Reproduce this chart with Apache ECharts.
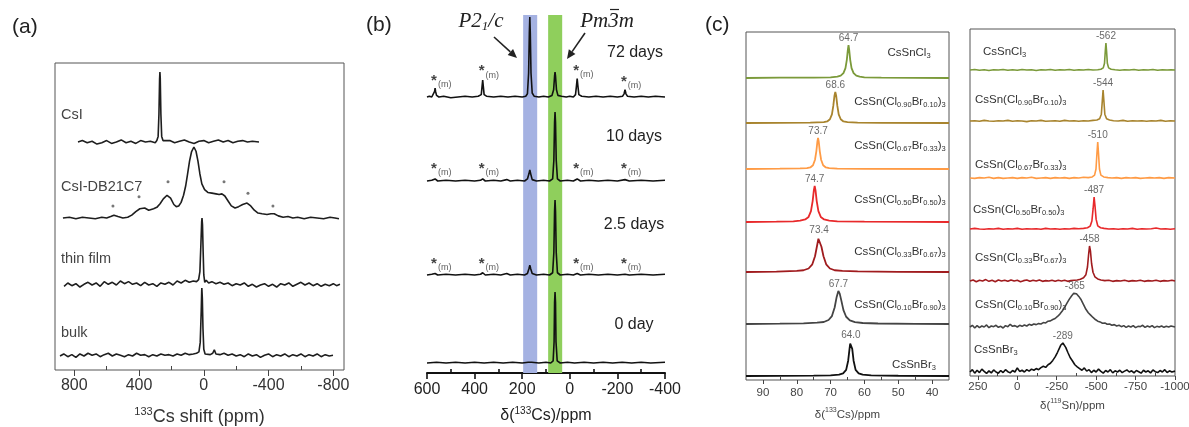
<!DOCTYPE html>
<html><head><meta charset="utf-8">
<script src="https://cdn.jsdelivr.net/npm/echarts@6/dist/echarts.min.js"></script>
<style>html,body{margin:0;padding:0;background:#fff}#c{width:1189px;height:427px}</style>
</head><body><div id="c"></div>
<script>
// ---------------- DATA ----------------
const aTicks=[800,400,0,-400,-800];
const aMinorTicks=[600,200,-200,-600];
const aNames=['CsI','CsI-DB21C7','thin film','bulk'];
const aCsI=[[777,0],[750,2],[720,-1],[690,1],[660,-3],[630,-1],[600,2],[570,-2],[540,0],[510,3],[480,-1],[450,1],[420,-2],[390,2],[360,0],[330,1],[300,-1],[290,2],[282,8],[277,40],[273,90],[271,100],[269,92],[265,40],[260,8],[252,2],[240,0],[210,2],[180,-1],[150,1],[120,3],[90,0],[60,-2],[30,1],[0,2],[-30,-1],[-60,1],[-90,3],[-120,0],[-150,2],[-180,-1],[-210,1],[-240,2],[-270,0],[-300,1],[-341,0]];
const aDB21C7=[[870,0],[830,1],[790,-1],[750,1],[710,0],[670,-1],[630,1],[600,0],[575,2],[555,4],[530,2],[500,0],[470,1],[445,4],[420,9],[395,13],[365,14],[340,11],[310,13],[290,15],[270,20],[250,27],[227,32],[205,28],[185,19],[170,16],[155,17],[140,22],[125,32],[112,45],[100,62],[88,80],[76,93],[61,100],[48,94],[36,80],[24,62],[12,48],[-5,40],[-25,36],[-50,35],[-75,34],[-95,33],[-112,34],[-130,31],[-150,24],[-170,17],[-193,14],[-215,16],[-240,19],[-267,21],[-290,17],[-312,11],[-335,7],[-360,6],[-390,5],[-415,6],[-435,6],[-460,3],[-490,1],[-520,2],[-550,0],[-580,1],[-620,-1],[-660,1],[-700,0],[-740,-1],[-780,1],[-810,0],[-835,-1]];
const aDB21C7Dots=[[561,17],[400,30],[221,51],[-125,51],[-273,35],[-427,17]];
const aThinFilm=[[863,-2],[840,3],[815,-1],[790,2],[765,-3],[740,1],[715,4],[690,0],[665,3],[640,-2],[615,5],[590,1],[565,4],[540,0],[515,6],[490,2],[465,5],[440,1],[415,3],[390,-1],[365,4],[340,0],[315,2],[290,-2],[265,3],[240,1],[215,4],[190,0],[165,6],[140,3],[115,7],[90,4],[65,6],[45,5],[32,8],[24,20],[18,60],[13,95],[11,100],[8,90],[4,50],[0,15],[-6,4],[-15,7],[-30,3],[-50,5],[-75,2],[-100,4],[-125,1],[-150,3],[-175,-1],[-200,2],[-225,0],[-250,3],[-275,-2],[-300,1],[-325,-3],[-350,0],[-375,2],[-400,-2],[-425,1],[-450,-3],[-475,2],[-500,0],[-525,3],[-550,-2],[-575,1],[-600,4],[-625,0],[-650,3],[-675,-1],[-700,2],[-725,-2],[-750,1],[-775,-1],[-800,2],[-820,-1],[-841,1]];
const aBulk=[[888,0],[865,3],[840,-1],[815,2],[790,-2],[765,3],[740,0],[715,4],[690,1],[665,3],[640,-1],[615,2],[590,4],[565,0],[540,3],[515,1],[490,-1],[465,2],[440,0],[415,4],[390,1],[365,2],[340,-1],[315,2],[290,0],[265,3],[240,1],[215,2],[190,0],[165,3],[140,1],[115,4],[90,2],[65,3],[45,4],[30,6],[22,20],[16,65],[13,95],[12,100],[9,85],[5,40],[0,10],[-8,3],[-20,5],[-40,2],[-55,4],[-65,9],[-75,3],[-100,2],[-125,4],[-150,1],[-175,3],[-200,0],[-225,2],[-250,-1],[-275,3],[-300,0],[-325,2],[-350,-2],[-375,1],[-400,3],[-425,-1],[-450,2],[-475,0],[-500,3],[-525,-1],[-550,2],[-575,0],[-600,3],[-625,-1],[-650,2],[-675,0],[-700,3],[-725,-1],[-750,2],[-775,0],[-798,1]];

const bTicks=[600,400,200,0,-200,-400];
const bMinorTicks=[500,300,100,-100,-300];
const bNames=['72 days','10 days','2.5 days','0 day'];
const bBandP21c=[196,137];
const bBandPm3m=[91,32];
const b72=[[600,0],[590,1],[580,0],[572,2],[568,7],[566,11],[564,7],[560,2],[550,0],[530,1],[500,-1],[470,0],[440,1],[410,0],[385,1],[372,3],[369,12],[366,21],[363,12],[360,3],[350,1],[320,0],[290,1],[260,0],[230,1],[200,0],[185,1],[178,4],[173,30],[170,80],[168,100],[166,80],[163,30],[158,5],[150,1],[130,0],[110,1],[90,0],[75,2],[68,9],[64,26],[62,31],[60,26],[56,9],[50,2],[35,1],[15,0],[0,1],[-15,0],[-24,3],[-28,14],[-31,23],[-34,14],[-38,3],[-50,1],[-80,0],[-110,1],[-140,0],[-170,1],[-200,0],[-222,1],[-228,4],[-232,9],[-236,4],[-242,1],[-270,0],[-300,1],[-330,0],[-360,1],[-400,0]];
const b10=[[600,0],[580,1],[566,3],[555,0],[520,1],[480,0],[440,1],[400,0],[375,1],[366,3],[355,0],[320,1],[290,0],[265,2],[250,0],[220,1],[190,0],[178,3],[172,10],[168,16],[164,10],[158,2],[140,0],[110,1],[85,0],[72,3],[67,30],[64,85],[62,100],[60,85],[57,30],[52,3],[40,0],[10,1],[-15,0],[-31,3],[-45,0],[-80,1],[-120,0],[-160,1],[-200,0],[-232,2],[-250,0],[-300,1],[-350,0],[-400,1]];
const b25=[[600,0],[580,1],[566,2],[555,0],[520,1],[480,0],[440,1],[400,0],[375,1],[366,3],[355,0],[320,1],[290,0],[265,2],[250,0],[220,1],[190,0],[178,2],[172,8],[168,13],[164,8],[158,2],[140,0],[110,1],[85,0],[72,3],[67,30],[64,85],[62,100],[60,85],[57,30],[52,3],[40,0],[10,1],[-15,0],[-31,2],[-45,0],[-80,1],[-120,0],[-160,1],[-200,0],[-232,1],[-250,0],[-300,1],[-350,0],[-400,1]];
const b0=[[600,0],[560,1],[520,0],[480,1],[440,0],[400,1],[360,0],[320,1],[280,0],[240,1],[200,0],[175,1],[168,3],[160,1],[130,0],[100,1],[80,0],[70,3],[66,30],[64,85],[62,100],[60,85],[58,30],[53,3],[40,0],[10,1],[-20,0],[-60,1],[-100,0],[-140,1],[-180,0],[-220,1],[-260,0],[-300,1],[-340,0],[-400,1]];
const bStars72=[[566,22],[366,34],[-31,35],[-232,21]];
const bStars10=[[566,20],[366,20],[-31,20],[-232,20]];
const bStars25=[[566,17],[366,17],[-31,17],[-232,17]];

const cLeftTicks=[90,80,70,60,50,40];
const cLeftMinorTicks=[85,75,65,55,45];
const cRightTicks=[250,0,-250,-500,-750,-1000];
const cRightMinorTicks=[125,-125,-375,-625,-875];
const cNames=['CsSnCl{s|3}','CsSn(Cl{s|0.90}Br{s|0.10}){s|3}','CsSn(Cl{s|0.67}Br{s|0.33}){s|3}','CsSn(Cl{s|0.50}Br{s|0.50}){s|3}','CsSn(Cl{s|0.33}Br{s|0.67}){s|3}','CsSn(Cl{s|0.10}Br{s|0.90}){s|3}','CsSnBr{s|3}'];
const cColors=['#7b9a3a','#a8842e','#ff9b45','#e8292b','#a01b1e','#444444','#111111'];
const cLeftPeaks=[64.7,68.6,73.7,74.7,73.4,67.7,64.0];
const cRightPeaks=[-562,-544,-510,-487,-458,-365,-289];
const cLeftCl3=[[95,0],[85,1],[75,1],[70,2],[68,4],[67,7],[66.2,15],[65.6,30],[65.2,55],[64.9,85],[64.7,100],[64.5,85],[64.2,55],[63.8,30],[63.2,15],[62.4,7],[61.4,4],[60,2],[55,1],[45,0.5],[35,0]];
const cLeft090=[[95,0],[85,0.5],[76,1.5],[72,3],[71,5],[70.2,12],[69.6,28],[69.2,55],[68.85,88],[68.6,100],[68.35,88],[68,55],[67.6,28],[67,12],[66.2,5],[65,3],[62,1.5],[55,0.5],[35,0]];
const cLeft067=[[95,0],[85,1],[79,2],[77,3],[76,5],[75.2,12],[74.6,30],[74.2,58],[73.9,88],[73.7,100],[73.5,88],[73.2,58],[72.8,30],[72.2,12],[71.4,5],[70.4,3],[68,1.5],[60,0.5],[35,0]];
const cLeft050=[[95,0],[86,1],[81,2],[79,4],[77.5,7],[76.5,14],[75.8,30],[75.3,58],[74.95,88],[74.7,100],[74.45,88],[74.1,58],[73.6,30],[72.9,14],[71.9,7],[70.4,4],[68,2],[60,1],[45,0.5],[35,0]];
const cLeft033=[[95,0],[86,1],[80,3],[78,5],[76.5,10],[75.4,22],[74.6,45],[74,75],[73.6,95],[73.4,100],[73.1,92],[72.7,72],[72.1,45],[71.3,22],[70.2,10],[68.8,5],[66.5,3],[62,1.5],[50,0.5],[35,0]];
const cLeft010=[[95,0],[85,1],[78,2],[74,4],[72,6],[70.6,12],[69.6,24],[68.8,50],[68.2,82],[67.7,100],[67.3,92],[66.8,70],[66.2,42],[65.4,22],[64.3,11],[62.8,6],[60.5,3],[56,1.5],[45,0.5],[35,0]];
const cLeftBr3=[[95,0],[85,0.5],[75,1],[70,2],[67.5,4],[66.3,8],[65.4,18],[64.8,45],[64.4,80],[64.2,95],[64.0,100],[63.8,95],[63.6,80],[63.2,45],[62.6,18],[61.7,8],[60.5,4],[58,2],[50,0.8],[35,0]];
const cRightCl3=[[300,0],[270,2],[240,-1],[210,1],[180,-2],[150,1],[120,0],[90,2],[60,-1],[30,1],[0,-1],[-30,2],[-60,0],[-90,1],[-120,-2],[-150,1],[-180,0],[-210,2],[-240,-1],[-270,1],[-300,0],[-330,2],[-360,-1],[-390,1],[-420,0],[-450,2],[-480,0],[-510,1],[-530,3],[-545,8],[-553,25],[-558,70],[-562,100],[-566,70],[-571,25],[-579,8],[-595,3],[-620,1],[-650,-1],[-680,1],[-710,0],[-740,2],[-770,-1],[-800,1],[-830,0],[-860,2],[-890,-1],[-920,1],[-950,0],[-975,1],[-1000,0]];
const cRight090=[[300,0],[270,1],[240,-1],[210,2],[180,0],[150,-1],[120,1],[90,0],[60,2],[30,-1],[0,1],[-30,0],[-60,-2],[-90,1],[-120,0],[-150,2],[-180,-1],[-210,0],[-240,1],[-270,-1],[-300,2],[-330,0],[-360,1],[-390,-1],[-420,1],[-450,0],[-480,2],[-505,3],[-522,7],[-533,22],[-539,65],[-544,100],[-549,65],[-555,22],[-566,7],[-585,3],[-610,1],[-640,0],[-670,2],[-700,-1],[-730,1],[-760,0],[-790,1],[-820,-1],[-850,1],[-880,0],[-910,2],[-940,-1],[-970,1],[-1000,0]];
const cRight067=[[300,0],[270,-1],[240,1],[210,0],[180,2],[150,-1],[120,1],[90,-1],[60,0],[30,1],[0,-1],[-30,1],[-60,0],[-90,2],[-120,-1],[-150,0],[-180,1],[-210,-1],[-240,1],[-270,0],[-300,1],[-330,-1],[-360,1],[-390,0],[-420,2],[-450,1],[-475,3],[-490,8],[-499,25],[-505,68],[-510,100],[-515,68],[-521,25],[-530,8],[-548,3],[-575,1],[-600,0],[-630,1],[-660,-1],[-690,1],[-720,0],[-750,1],[-780,-1],[-810,0],[-840,1],[-870,0],[-900,1],[-930,-1],[-960,1],[-1000,0]];
const cRight050=[[300,0],[270,2],[240,0],[210,-1],[180,1],[150,0],[120,2],[90,-1],[60,1],[30,0],[0,2],[-30,-1],[-60,1],[-90,0],[-120,1],[-150,-1],[-180,2],[-210,0],[-240,1],[-270,-1],[-300,1],[-330,0],[-360,2],[-390,1],[-420,2],[-445,4],[-462,9],[-473,25],[-481,65],[-487,100],[-493,70],[-500,30],[-510,10],[-528,4],[-550,2],[-580,0],[-610,1],[-640,-1],[-670,1],[-700,0],[-730,2],[-760,-1],[-790,1],[-820,0],[-850,1],[-880,3],[-910,0],[-940,1],[-970,-1],[-1000,1]];
const cRight033=[[300,0],[280,3],[260,-2],[240,2],[220,0],[200,4],[180,-1],[160,2],[140,-2],[120,3],[100,0],[80,2],[60,-1],[40,3],[20,0],[0,2],[-20,-2],[-40,1],[-60,3],[-80,-1],[-100,2],[-120,0],[-140,3],[-160,-1],[-180,1],[-200,0],[-220,2],[-240,-1],[-260,2],[-280,0],[-300,2],[-320,-1],[-340,1],[-360,2],[-380,3],[-400,5],[-420,9],[-435,18],[-445,40],[-452,75],[-458,100],[-464,85],[-471,50],[-480,25],[-492,12],[-510,6],[-530,3],[-555,1],[-580,2],[-605,-1],[-630,1],[-655,0],[-680,2],[-705,-1],[-730,1],[-755,0],[-780,2],[-805,-1],[-830,1],[-855,0],[-880,2],[-905,-1],[-930,1],[-955,0],[-980,2],[-1000,0]];
const cRight010=[[300,0],[285,5],[270,-3],[255,4],[240,-2],[225,3],[210,0],[195,6],[180,-2],[165,3],[150,1],[135,5],[120,-1],[105,2],[90,-3],[75,4],[60,1],[45,8],[30,2],[15,4],[0,0],[-15,5],[-30,2],[-45,6],[-60,3],[-75,8],[-90,5],[-105,9],[-120,7],[-135,10],[-150,9],[-165,13],[-180,12],[-195,17],[-210,18],[-225,22],[-240,25],[-255,31],[-270,38],[-285,47],[-300,58],[-315,70],[-330,82],[-345,92],[-358,99],[-365,100],[-375,98],[-390,90],[-405,80],[-420,66],[-435,52],[-450,42],[-465,35],[-480,28],[-495,22],[-510,17],[-525,15],[-540,11],[-555,12],[-570,8],[-585,9],[-600,5],[-615,7],[-630,3],[-645,5],[-660,1],[-675,4],[-690,-1],[-705,3],[-720,0],[-735,4],[-750,-2],[-765,2],[-780,1],[-795,5],[-810,-1],[-825,3],[-840,0],[-855,4],[-870,-2],[-885,2],[-900,0],[-915,3],[-930,-1],[-945,2],[-960,0],[-975,3],[-1000,0]];
const cRightBr3=[[300,0],[285,8],[270,-4],[255,6],[240,-2],[225,10],[210,2],[195,-5],[180,4],[165,-3],[150,7],[135,0],[120,-4],[105,5],[90,-2],[75,8],[60,1],[45,-3],[30,5],[15,0],[0,14],[-15,2],[-30,6],[-45,0],[-60,8],[-75,3],[-90,10],[-105,6],[-120,12],[-135,8],[-150,15],[-165,20],[-180,16],[-195,25],[-210,30],[-225,40],[-240,52],[-255,68],[-265,80],[-275,92],[-283,98],[-289,100],[-297,97],[-307,85],[-320,68],[-335,50],[-350,38],[-365,25],[-380,18],[-395,12],[-410,6],[-425,14],[-440,3],[-455,8],[-470,-2],[-485,6],[-500,0],[-515,10],[-530,2],[-545,-4],[-560,5],[-575,0],[-590,8],[-605,-3],[-620,4],[-635,0],[-650,6],[-665,-2],[-680,3],[-695,7],[-710,0],[-725,4],[-740,-3],[-755,5],[-770,1],[-785,-4],[-800,6],[-815,0],[-830,4],[-845,-3],[-860,7],[-875,1],[-890,-2],[-905,5],[-920,0],[-935,8],[-950,-2],[-965,4],[-980,0],[-1000,3]];

// ---------------- LAYOUT ----------------
const FONT='"Liberation Sans", Arial, Helvetica, sans-serif';
const L={
  a:{box:{left:55,top:63,width:289,height:307},min:-866,max:919,
     rows:[{top:72,height:70},{top:147,height:71},{top:218,height:67},{top:288,height:68}],
     names:[[61,115],[61,187],[61,259],[61,333]]},
  b:{box:{left:427,top:15,width:238,height:358},min:-400,max:600,
     rows:[{top:17,height:80},{top:112,height:69},{top:200,height:75},{top:292,height:71}],
     names:[[635,53],[634,137],[634,225],[634,325]]},
  cl:{box:{left:746,top:32,width:203,height:348},min:35,max:95,
     rows:[{top:45,height:33},{top:92,height:31},{top:138,height:31},{top:186,height:36},{top:237,height:35},{top:291,height:33},{top:342,height:34}],
     names:[[909,53],[900,102],[900,146],[900,200],[900,252],[900,305],[914,365]]},
  cr:{box:{left:970,top:29,width:205,height:347},min:-1000,max:300,
     rows:[{top:43,height:27},{top:90,height:31},{top:142,height:36},{top:197,height:32},{top:246,height:35},{top:293,height:34},{top:343,height:29}],
     names:[[983,52],[975,100],[975,165],[973,210],[975,258],[975,305],[974,350]]}
};

const grid=[],xAxis=[],yAxis=[],series=[],graphic=[];
function addFrame(p,o){
  grid.push(Object.assign({show:!!o.border,borderColor:'#555',borderWidth:1,containLabel:false,outerBoundsMode:'none'},p.box));
  const gi=grid.length-1;
  xAxis.push({type:'value',gridIndex:gi,min:p.min,max:p.max,inverse:true,
    axisLine:{show:!!o.axisLine,onZero:false,lineStyle:{color:'#111',width:2}},
    axisTick:{show:true,customValues:o.ticks,length:o.tickLen,lineStyle:{color:o.tickColor,width:o.tickW}},
    axisLabel:{customValues:o.ticks,fontSize:o.labelSize,color:o.labelColor,margin:o.labelMargin,fontFamily:FONT,formatter:(v)=>String(v)},
    splitLine:{show:false},
    name:o.name,nameLocation:'middle',nameGap:o.nameGap,
    nameTextStyle:{fontSize:o.nameSize,color:o.labelColor,fontFamily:FONT,lineHeight:o.nameSize+4,
      rich:{sup:{fontSize:Math.round(o.nameSize*0.62),lineHeight:o.nameSize*0.62,verticalAlign:'top',color:o.labelColor,fontFamily:FONT}}}});
  xAxis.push({type:'value',gridIndex:gi,min:p.min,max:p.max,inverse:true,axisLine:{show:false},
    axisTick:{show:true,customValues:o.minor,length:o.minorLen,lineStyle:{color:o.tickColor,width:o.tickW}},
    axisLabel:{show:false},splitLine:{show:false}});
  yAxis.push({type:'value',gridIndex:gi,min:0,max:1,show:false});
  return {xi:xAxis.length-2,yi:yAxis.length-1};
}
function addSpec(p,row){
  grid.push({left:p.box.left,width:p.box.width,top:row.top,height:row.height,show:false,containLabel:false,outerBoundsMode:'none'});
  const gi=grid.length-1;
  xAxis.push({type:'value',gridIndex:gi,min:p.min,max:p.max,inverse:true,show:false});
  yAxis.push({type:'value',gridIndex:gi,min:0,max:100,show:false});
  return {xi:xAxis.length-1,yi:yAxis.length-1};
}
function line(ax,data,color,width){
  series.push({type:'line',xAxisIndex:ax.xi,yAxisIndex:ax.yi,data:data,symbol:'none',showSymbol:false,clip:false,silent:true,z:5,
    lineStyle:{color:color,width:width}});
}
function text(x,y,str,o){
  graphic.push({type:'text',x:x,y:y,silent:true,z:20,style:Object.assign({text:str,fill:'#333',font:o.size+'px '+FONT,
    align:o.align||'left',verticalAlign:'middle'},o.style||{})});
}
function arrow(x1,y1,x2,y2){
  const ang=Math.atan2(y2-y1,x2-x1),Ln=9,W=4;
  const bx=x2-Ln*Math.cos(ang),by=y2-Ln*Math.sin(ang);
  const px=-Math.sin(ang)*W,py=Math.cos(ang)*W;
  graphic.push({type:'line',silent:true,z:20,shape:{x1:x1,y1:y1,x2:bx,y2:by},style:{stroke:'#222',lineWidth:1.6}});
  graphic.push({type:'polygon',silent:true,z:20,shape:{points:[[x2,y2],[bx+px,by+py],[bx-px,by-py]]},style:{fill:'#222'}});
}

// ---- panel a ----
addFrame(L.a,{border:true,axisLine:false,ticks:aTicks,minor:aMinorTicks,tickLen:6,minorLen:4,tickColor:'#444',tickW:1,
  labelSize:16,labelColor:'#333',labelMargin:8,name:'{sup|133}Cs shift (ppm)',nameGap:36,nameSize:18});
const aData=[aCsI,aDB21C7,aThinFilm,aBulk];
aData.forEach((d,i)=>{
  const ax=addSpec(L.a,L.a.rows[i]);
  line(ax,d,'#1e1e1e',1.6);
  if(i===1){
    series.push({type:'scatter',xAxisIndex:ax.xi,yAxisIndex:ax.yi,data:aDB21C7Dots,symbolSize:3,clip:false,silent:true,z:6,itemStyle:{color:'#555'}});
  }
  text(L.a.names[i][0],L.a.names[i][1],aNames[i],{size:14.5,style:{fill:'#444'}});
});

// ---- panel b ----
const bf=addFrame(L.b,{border:false,axisLine:true,ticks:bTicks,minor:bMinorTicks,tickLen:6,minorLen:4,tickColor:'#111',tickW:1.6,
  labelSize:16,labelColor:'#222',labelMargin:9,name:'δ({sup|133}Cs)/ppm',nameGap:33,nameSize:16});
series.push({type:'line',xAxisIndex:bf.xi,yAxisIndex:bf.yi,data:[],symbol:'none',silent:true,z:1,
  markArea:{silent:true,data:[
    [{xAxis:bBandP21c[0],itemStyle:{color:'#a5b2e2'}},{xAxis:bBandP21c[1]}],
    [{xAxis:bBandPm3m[0],itemStyle:{color:'#8fcf5c'}},{xAxis:bBandPm3m[1]}]
  ]}});
const bData=[b72,b10,b25,b0];
const bStars=[bStars72,bStars10,bStars25,[]];
bData.forEach((d,i)=>{
  const ax=addSpec(L.b,L.b.rows[i]);
  line(ax,d,'#111',1.6);
  if(bStars[i].length){
    series.push({type:'scatter',xAxisIndex:ax.xi,yAxisIndex:ax.yi,data:bStars[i],symbolSize:1,clip:false,silent:true,z:6,
      itemStyle:{color:'rgba(0,0,0,0)'},
      label:{show:true,position:'inside',align:'left',verticalAlign:'middle',offset:[-4,2],formatter:'{s|*}{m|(m)}',
        rich:{s:{fontSize:15,fontWeight:'bold',color:'#111',lineHeight:16,verticalAlign:'top'},m:{fontSize:9,color:'#333',lineHeight:10,verticalAlign:'bottom',padding:[0,0,0,1]}}}});
  }
  text(L.b.names[i][0],L.b.names[i][1],bNames[i],{size:16,align:'center',style:{fill:'#222'}});
});
graphic.push({type:'text',x:481,y:21,silent:true,z:20,style:{text:'P2{s|1}/c',fill:'#222',font:'italic 21px "Liberation Serif", "DejaVu Serif", serif',
  align:'center',verticalAlign:'middle',lineHeight:24,rich:{s:{font:'italic 13px "Liberation Serif", serif',lineHeight:13,verticalAlign:'bottom',fill:'#222'}}}});
graphic.push({type:'text',x:607,y:21,silent:true,z:20,style:{text:'Pm3m',fill:'#222',font:'italic 21px "Liberation Serif", "DejaVu Serif", serif',
  align:'center',verticalAlign:'middle'}});
graphic.push({type:'line',silent:true,z:20,shape:{x1:610,y1:9.5,x2:619,y2:9.5},style:{stroke:'#222',lineWidth:1.2}});
arrow(494,37,517,58);
arrow(585,33,567,59);

// ---- panel c ----
const cRich={s:{fontSize:7.5,lineHeight:8,verticalAlign:'bottom',fill:'#333'}};
addFrame(L.cl,{border:true,axisLine:false,ticks:cLeftTicks,minor:cLeftMinorTicks,tickLen:4,minorLen:3,tickColor:'#444',tickW:1,
  labelSize:11.5,labelColor:'#444',labelMargin:7,name:'δ({sup|133}Cs)/ppm',nameGap:27,nameSize:11.5});
const clData=[cLeftCl3,cLeft090,cLeft067,cLeft050,cLeft033,cLeft010,cLeftBr3];
clData.forEach((d,i)=>{
  const ax=addSpec(L.cl,L.cl.rows[i]);
  line(ax,d,cColors[i],1.8);
  series.push({type:'scatter',xAxisIndex:ax.xi,yAxisIndex:ax.yi,data:[[cLeftPeaks[i],100]],symbolSize:1,clip:false,silent:true,z:6,
    itemStyle:{color:'rgba(0,0,0,0)'},
    label:{show:true,position:'top',distance:1,fontSize:10,color:'#444',fontFamily:FONT,formatter:(p)=>p.value[0].toFixed(1)}});
  text(L.cl.names[i][0],L.cl.names[i][1],cNames[i],{size:11.5,align:'center',style:{lineHeight:14,rich:cRich}});
});
addFrame(L.cr,{border:true,axisLine:false,ticks:cRightTicks,minor:cRightMinorTicks,tickLen:4,minorLen:3,tickColor:'#444',tickW:1,
  labelSize:11.5,labelColor:'#444',labelMargin:5,name:'δ({sup|119}Sn)/ppm',nameGap:22,nameSize:11.5});
const crData=[cRightCl3,cRight090,cRight067,cRight050,cRight033,cRight010,cRightBr3];
crData.forEach((d,i)=>{
  const ax=addSpec(L.cr,L.cr.rows[i]);
  line(ax,d,cColors[i],1.6);
  series.push({type:'scatter',xAxisIndex:ax.xi,yAxisIndex:ax.yi,data:[[cRightPeaks[i],100]],symbolSize:1,clip:false,silent:true,z:6,
    itemStyle:{color:'rgba(0,0,0,0)'},
    label:{show:true,position:'top',distance:1,fontSize:10,color:'#444',fontFamily:FONT,formatter:(p)=>String(p.value[0])}});
  text(L.cr.names[i][0],L.cr.names[i][1],cNames[i],{size:11.5,style:{lineHeight:14,rich:cRich}});
});

// panel letters
text(12,27,'(a)',{size:21,style:{fill:'#222'}});
text(366,25,'(b)',{size:21,style:{fill:'#222'}});
text(705,25,'(c)',{size:21,style:{fill:'#222'}});

const chart=echarts.init(document.getElementById('c'),null,{renderer:'canvas'});
chart.setOption({animation:false,backgroundColor:'#fff',textStyle:{fontFamily:FONT},
  grid:grid,xAxis:xAxis,yAxis:yAxis,series:series,graphic:graphic});
</script></body></html>
